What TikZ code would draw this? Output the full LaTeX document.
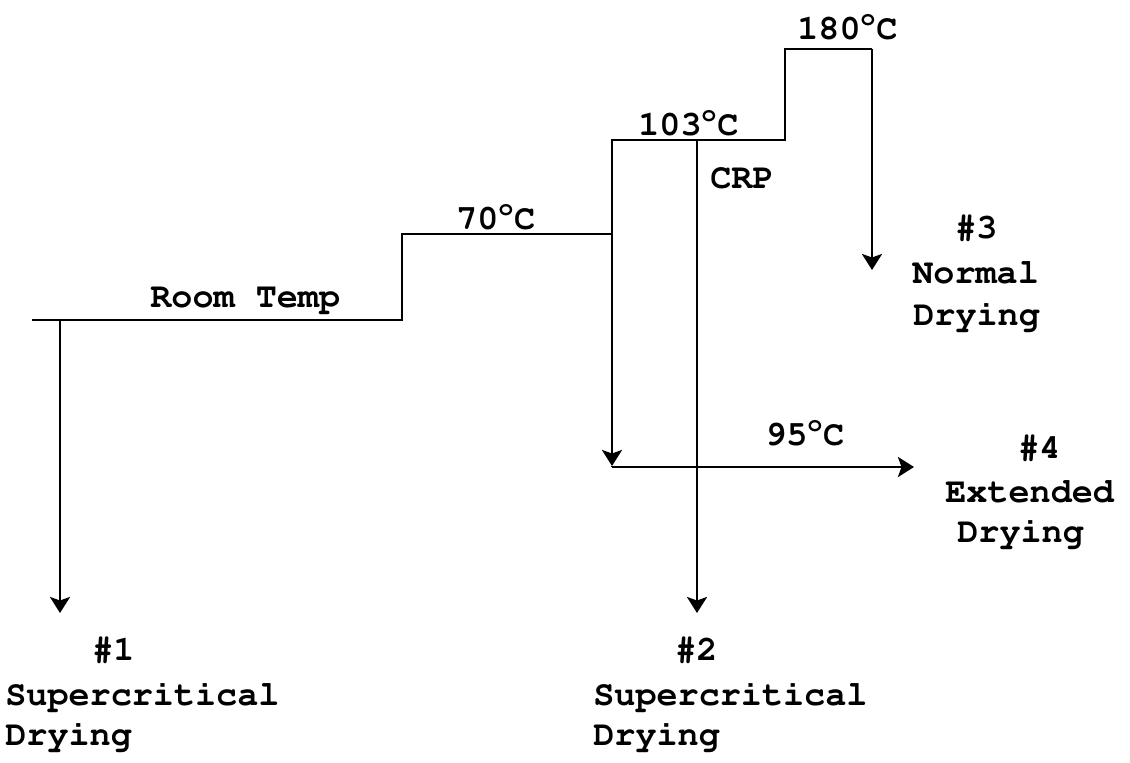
\documentclass[tikz,border=0pt]{standalone}
\usepackage[T1]{fontenc}
\usepackage{courier}
\usetikzlibrary{arrows.meta}
\newcommand{\degs}{\textsuperscript{o}C}

\begin{document}
\begin{tikzpicture}[
  x=0.2mm,y=-0.2mm,
  stair/.style={draw=black,line width=1.6pt,line join=miter},
  outlet/.style={draw=black,line width=1.6pt,
                 -{Stealth[length=3.2mm,width=4mm,inset=0.7mm]}},
  lbl/.style={anchor=base west,inner sep=0pt},
  every node/.style={font=\ttfamily\bfseries\fontsize{20}{24}\selectfont},
]
\useasboundingbox (0,0) rectangle (1130,763);

% Temperature steps of the drying schedule.
\coordinate (rtL) at (32,320);
\coordinate (rtR) at (402,320);
\coordinate (s70L) at (402,234);
\coordinate (s70R) at (612,234);
\coordinate (s103L) at (612,140);
\coordinate (s103R) at (785,140);
\coordinate (s180L) at (785,49);
\coordinate (s180R) at (872,49);

\draw[stair] (rtL)--(rtR)--(s70L)--(s70R)--(s103L)--(s103R)--(s180L)--(s180R);

% Branches leading to the four drying routes.
\coordinate (br1) at (60,320);
\coordinate (end1) at (60,613);
\coordinate (br2) at (697,140);
\coordinate (end2) at (697,613);
\coordinate (end3) at (872,270);
\coordinate (end95) at (612,466);
\coordinate (start95) at (612,467);
\coordinate (end4) at (914,467);

\draw[outlet] (br1)--(end1);
\draw[outlet] (br2)--(end2);
\draw[outlet] (s180R)--(end3);
\draw[outlet] (s103L)--(end95);
\draw[stair] (start95)--(end95);
\draw[outlet] (start95)--(end4);

% Step labels.
\node[lbl] (roomT) at (150,307) {Room Temp};
\node[lbl] (t70) at (456,229) {70\degs};
\node[lbl] (t103) at (638,135) {103\degs};
\node[lbl] (t180) at (797,39) {180\degs};
\node[lbl] (crp) at (710,188) {CRP};
\node[lbl] (t95) at (765,445) {95\degs};

% Route labels.
\node[lbl] (n3) at (955,238) {\#3};
\node[lbl] (n3a) at (912,283) {Normal};
\node[lbl] (n3b) at (913,325) {Drying};
\node[lbl] (n4) at (1018,458) {\#4};
\node[lbl] (n4a) at (945,502) {Extended};
\node[lbl] (n4b) at (957,542) {Drying};
\node[lbl] (n1) at (92,660) {\#1};
\node[lbl] (n1a) at (5,705) {Supercritical};
\node[lbl] (n1b) at (5,745) {Drying};
\node[lbl] (n2) at (675,660) {\#2};
\node[lbl] (n2a) at (593,705) {Supercritical};
\node[lbl] (n2b) at (593,745) {Drying};
\end{tikzpicture}
\end{document}
